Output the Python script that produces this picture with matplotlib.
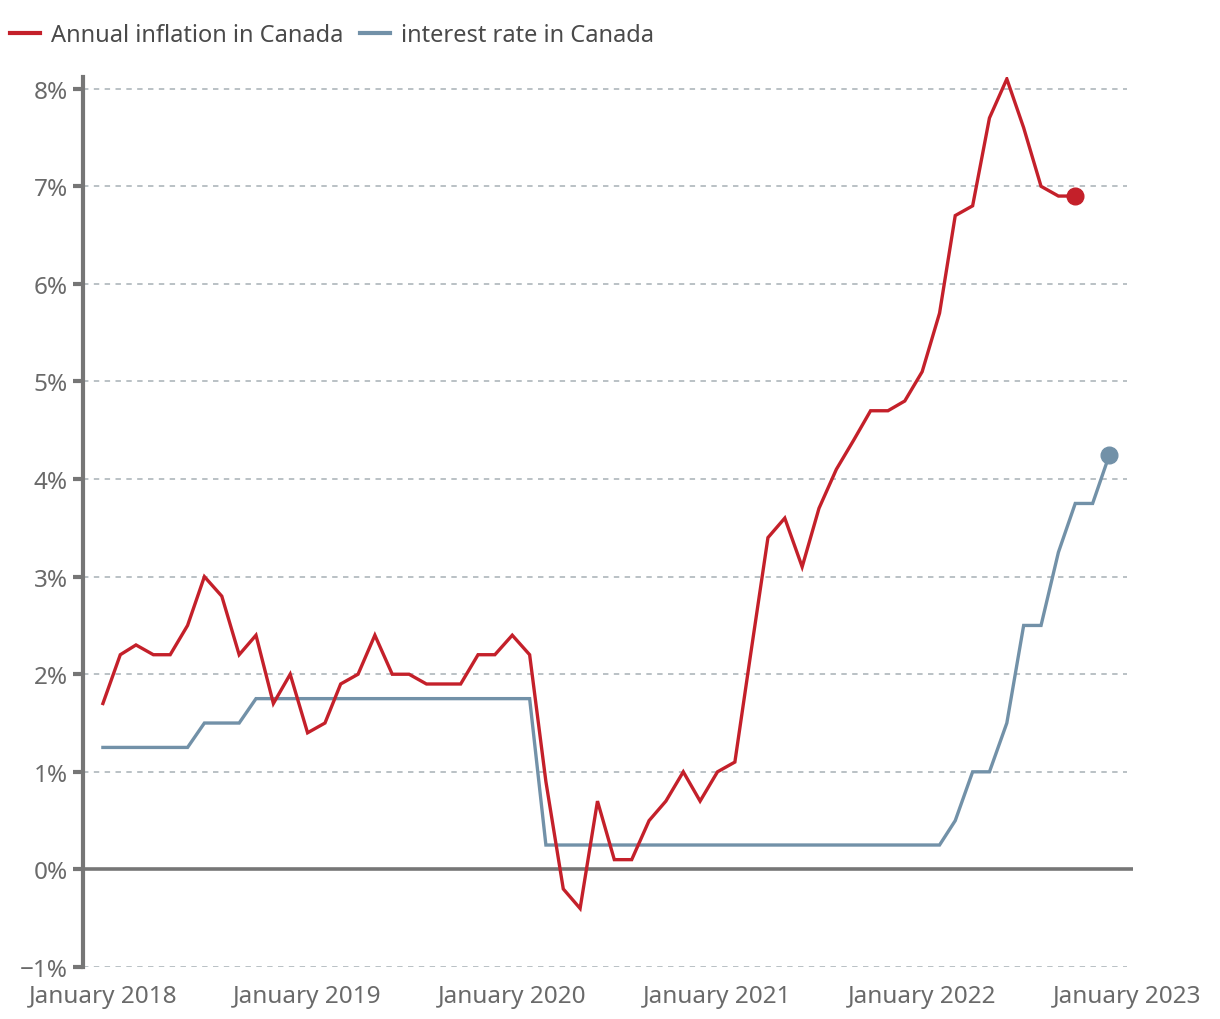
import matplotlib
matplotlib.use("Agg")
import matplotlib.pyplot as plt
import pandas as pd
from matplotlib.lines import Line2D

plt.rcParams['font.family'] = ['Noto Sans', 'DejaVu Sans']

inflation = [1.7, 2.2, 2.3, 2.2, 2.2, 2.5, 3.0, 2.8, 2.2, 2.4, 1.7, 2.0,
             1.4, 1.5, 1.9, 2.0, 2.4, 2.0, 2.0, 1.9, 1.9, 1.9, 2.2, 2.2,
             2.4, 2.2, 0.9, -0.2, -0.4, 0.7, 0.1, 0.1, 0.5, 0.7, 1.0, 0.7,
             1.0, 1.1, 2.2, 3.4, 3.6, 3.1, 3.7, 4.1, 4.4, 4.7, 4.7, 4.8,
             5.1, 5.7, 6.7, 6.8, 7.7, 8.1, 7.6, 7.0, 6.9, 6.9]
interest = [1.25, 1.25, 1.25, 1.25, 1.25, 1.25, 1.5, 1.5, 1.5, 1.75, 1.75, 1.75,
            1.75, 1.75, 1.75, 1.75, 1.75, 1.75, 1.75, 1.75, 1.75, 1.75, 1.75, 1.75,
            1.75, 1.75, 0.25, 0.25, 0.25, 0.25, 0.25, 0.25, 0.25, 0.25, 0.25, 0.25,
            0.25, 0.25, 0.25, 0.25, 0.25, 0.25, 0.25, 0.25, 0.25, 0.25, 0.25, 0.25,
            0.25, 0.25, 0.5, 1.0, 1.0, 1.5, 2.5, 2.5, 3.25, 3.75, 3.75, 4.25]
start = "2018-01-01"
tick_dates = ["2018-01-01", "2019-01-01", "2020-01-01", "2021-01-01", "2022-01-01", "2023-01-01"]
tick_labels = ["January 2018", "January 2019", "January 2020", "January 2021", "January 2022", "January 2023"]
y_ticks = [-1, 0, 1, 2, 3, 4, 5, 6, 7, 8]
y_labels = ["\u22121%", "0%", "1%", "2%", "3%", "4%", "5%", "6%", "7%", "8%"]
series_names = ["Annual inflation in Canada", "interest rate in Canada"]

RED = "#c4202a"
BLUE = "#7291a8"
GRAY = "#767676"
GRID = "#b4bcc0"
TXT = "#6a6a6a"

d_inf = pd.date_range(start, periods=len(inflation), freq="MS")
d_int = pd.date_range(start, periods=len(interest), freq="MS")
ticks = pd.to_datetime(tick_dates)

fig = plt.figure(figsize=(12.2, 10.2), dpi=100)
ax = fig.add_axes([83/1220, (1020-968)/1020, (1133-83)/1220, (968-78)/1020])

x0 = pd.Timestamp("2018-01-01") - pd.Timedelta(days=35.5)
x1 = pd.Timestamp("2023-01-01") + pd.Timedelta(days=11)
ax.set_xlim(x0, x1)
ax.set_ylim(-1, 8.12)

# gridlines
for y in y_ticks:
    if y == 0:
        continue
    ax.plot([x0, ticks[-1]], [y, y], color=GRID, lw=1.3, ls=(0, (3, 3)), zorder=1)
ax.axhline(0, color=GRAY, lw=2.6, zorder=2)

ax.plot(d_int, interest, color=BLUE, lw=2.4, zorder=3, solid_joinstyle='miter')
ax.plot(d_inf, inflation, color=RED, lw=2.4, zorder=4, solid_joinstyle='miter')
ax.plot(d_inf[-1:], inflation[-1:], 'o', color=RED, ms=12, zorder=5)
ax.plot(d_int[-1:], interest[-1:], 'o', color=BLUE, ms=12, zorder=5)

for s in ["top", "right", "bottom"]:
    ax.spines[s].set_visible(False)
ax.spines["left"].set_color(GRAY)
ax.spines["left"].set_linewidth(3)

ax.set_yticks(y_ticks)
ax.set_yticklabels(y_labels)
ax.tick_params(axis='y', length=7, width=3, color=GRAY, labelcolor=TXT, labelsize=17.5, pad=4)
ax.set_xticks(ticks)
ax.set_xticklabels(tick_labels)
ax.tick_params(axis='x', length=0, labelcolor=TXT, labelsize=17.5, pad=12)

handles = [Line2D([], [], color=RED, lw=3), Line2D([], [], color=BLUE, lw=3)]
fig.legend(handles, series_names, loc="upper left", bbox_to_anchor=(10/1220, 1 - 24/1020), ncol=2,
           frameon=False, fontsize=17, labelcolor="#4a4a4a", handlelength=1.27,
           handletextpad=0.45, columnspacing=0.72, borderpad=0, borderaxespad=0)

fig.savefig("out.png", dpi=100, facecolor="white")
